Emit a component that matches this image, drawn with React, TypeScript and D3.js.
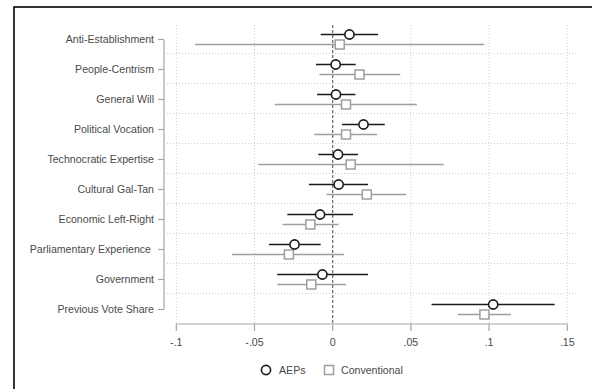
import React from "react";
import * as d3 from "d3";

const categories = [
  "Anti-Establishment",
  "People-Centrism",
  "General Will",
  "Political Vocation",
  "Technocratic Expertise",
  "Cultural Gal-Tan",
  "Economic Left-Right",
  "Parliamentary Experience",
  "Government",
  "Previous Vote Share",
];

const aepEst = [0.0107, 0.0019, 0.0021, 0.0197, 0.0034, 0.0038, -0.0081, -0.0244, -0.0066, 0.1026];
const aepLo = [-0.0077, -0.0107, -0.01, 0.006, -0.0092, -0.0152, -0.029, -0.0408, -0.0355, 0.0632];
const aepHi = [0.029, 0.0147, 0.0145, 0.0333, 0.0162, 0.0226, 0.013, -0.0077, 0.0226, 0.1419];

const convEst = [0.0045, 0.0171, 0.0085, 0.0085, 0.0115, 0.0218, -0.0143, -0.028, -0.0137, 0.097];
const convLo = [-0.088, -0.0085, -0.037, -0.0118, -0.0476, -0.004, -0.032, -0.0643, -0.0353, 0.08];
const convHi = [0.0968, 0.0432, 0.0538, 0.0284, 0.071, 0.047, 0.0038, 0.0073, 0.0085, 0.114];

const xTicks = [-0.1, -0.05, 0, 0.05, 0.1, 0.15];
const xTickLabels = ["-.1", "-.05", "0", ".05", ".1", ".15"];
const legendLabels = ["AEPs", "Conventional"];

export default function App() {
  const W = 592;
  const H = 389;
  const x = d3.scaleLinear().domain([-0.1, 0.15]).range([176.3, 567.3]);
  const y = d3.scalePoint<string>().domain(categories).range([39.5, 309.5]);
  const step = y.step();
  const font = "'Liberation Sans', Arial, sans-serif";
  const black = "#1a1a1a";
  const gray = "#9e9e9e";
  const axisCol = "#a6a6a6";
  const textCol = "#4a4a4a";
  const plotTop = 25;
  const axisY = 324;
  const yAxisX = 164;
  const off = 5;
  const fs = 10.6;

  return (
    <svg
      width={W}
      height={H}
      style={{ position: "absolute", left: 0, top: 0, background: "#fff" }}
      fontFamily={font}
    >
      <rect x={0} y={0} width={W} height={H} fill="#fff" />
      <rect x={14} y={7} width={700} height={500} fill="none" stroke="#000" strokeWidth={1.6} />

      {/* vertical gridlines */}
      {xTicks.filter((t) => t !== 0).map((t) => (
        <line
          key={"vg" + t}
          x1={x(t)}
          x2={x(t)}
          y1={plotTop}
          y2={axisY}
          stroke="#cdcdcd"
          strokeWidth={1}
          strokeDasharray="1 2"
        />
      ))}
      {/* horizontal gridlines */}
      {categories.slice(0, -1).map((c) => (
        <line
          key={"hg" + c}
          x1={167}
          x2={577}
          y1={(y(c) as number) + step / 2 - 1}
          y2={(y(c) as number) + step / 2 - 1}
          stroke="#cdcdcd"
          strokeWidth={1}
          strokeDasharray="1 2"
        />
      ))}
      {/* zero line */}
      <line
        x1={x(0)}
        x2={x(0)}
        y1={plotTop}
        y2={axisY}
        stroke="#666"
        strokeWidth={1.2}
        strokeDasharray="3 2"
      />

      {/* y axis */}
      <line x1={yAxisX} x2={yAxisX} y1={y(categories[0])} y2={y(categories[categories.length - 1])} stroke={axisCol} strokeWidth={1.2} />
      {categories.map((c) => (
        <g key={"yt" + c}>
          <line x1={yAxisX - 6} x2={yAxisX} y1={y(c)} y2={y(c)} stroke={axisCol} strokeWidth={1.2} />
          <text
            x={c === "Parliamentary Experience" ? yAxisX - 13 : yAxisX - 10}
            y={(y(c) as number) + 3.8}
            textAnchor="end"
            fontSize={fs}
            fill={textCol}
          >
            {c}
          </text>
        </g>
      ))}

      {/* x axis */}
      <line x1={x(-0.1)} x2={x(0.15)} y1={axisY} y2={axisY} stroke={axisCol} strokeWidth={1.2} />
      {xTicks.map((t, i) => (
        <g key={"xt" + t}>
          <line x1={x(t)} x2={x(t)} y1={axisY} y2={axisY + 7} stroke={axisCol} strokeWidth={1.2} />
          <text x={x(t)} y={axisY + 21.5} textAnchor="middle" fontSize={fs} fill={textCol}>
            {xTickLabels[i]}
          </text>
        </g>
      ))}

      {/* conventional */}
      {categories.map((c, i) => {
        const cy = (y(c) as number) + off;
        return (
          <g key={"cv" + c}>
            <line x1={x(convLo[i])} x2={x(convHi[i])} y1={cy} y2={cy} stroke={gray} strokeWidth={1.5} />
            <rect x={x(convEst[i]) - 4.5} y={cy - 4.5} width={9} height={9} fill="#fff" stroke={gray} strokeWidth={1.5} />
          </g>
        );
      })}
      {/* AEPs */}
      {categories.map((c, i) => {
        const cy = (y(c) as number) - off;
        return (
          <g key={"ae" + c}>
            <line x1={x(aepLo[i])} x2={x(aepHi[i])} y1={cy} y2={cy} stroke={black} strokeWidth={1.5} />
            <circle cx={x(aepEst[i])} cy={cy} r={4.6} fill="#fff" stroke={black} strokeWidth={1.6} />
          </g>
        );
      })}

      {/* legend */}
      <circle cx={266} cy={370} r={4.6} fill="#fff" stroke={black} strokeWidth={1.6} />
      <text x={279} y={373.8} fontSize={fs} fill={textCol}>{legendLabels[0]}</text>
      <rect x={324.5} y={365.5} width={9} height={9} fill="#fff" stroke={gray} strokeWidth={1.5} />
      <text x={341} y={373.8} fontSize={fs} fill={textCol}>{legendLabels[1]}</text>
    </svg>
  );
}
